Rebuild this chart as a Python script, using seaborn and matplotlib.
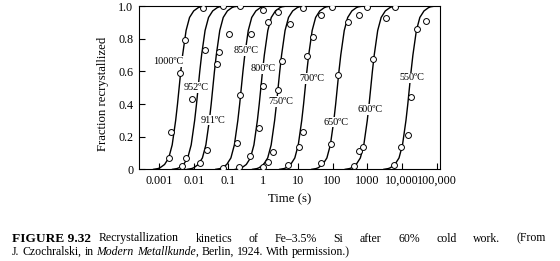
import numpy as np
import pandas as pd
import matplotlib
matplotlib.use("Agg")
import matplotlib.pyplot as plt
from matplotlib.ticker import NullLocator
import seaborn as sns

# ---------------- data ----------------
temps = ["1000ºC", "952ºC", "911ºC", "850ºC", "800ºC", "750ºC",
         "700ºC", "650ºC", "600ºC", "550ºC"]
# time at 50 % recrystallized for each drawn curve (s)
t50 = [0.0038, 0.0134, 0.0355, 0.235, 0.86, 2.7, 16.3, 137, 1260, 16400]

# shared shape of the drawn curves: fraction vs. decades from t50
profile_f = [0.0, 0.005, 0.01, 0.03, 0.07, 0.15, 0.3, 0.4, 0.5, 0.6, 0.7,
             0.85, 0.93, 0.97, 0.99, 0.995, 1.0]
profile_dlog = [-0.75, -0.61, -0.55, -0.42, -0.30, -0.20, -0.10, -0.047, 0.0,
                0.047, 0.10, 0.20, 0.30, 0.42, 0.55, 0.61, 0.75]

# measured points
pts_t = {
    "1000ºC": [0.00195, 0.00218, 0.00415, 0.00578, 0.0186],
    "952ºC": [0.00473, 0.0059, 0.00895, 0.0208, 0.0703],
    "911ºC": [0.0150, 0.0238, 0.0454, 0.0529, 0.105, 0.22],
    "850ºC": [0.0703, 0.178, 0.213, 0.443, 1.0],
    "800ºC": [0.204, 0.415, 0.77, 0.964, 1.40, 2.72],
    "750ºC": [1.0, 1.40, 1.95, 2.72, 3.59, 5.92, 14.0],
    "700ºC": [5.28, 10.8, 13.8, 18.7, 27.8, 45.5, 98.4],
    "650ºC": [45.5, 88.5, 147, 285, 580, 968],
    "600ºC": [416, 580, 771, 1442, 3491, 6350],
    "550ºC": [5930, 9450, 14760, 18370, 26840, 48750],
}
pts_f = {
    "1000ºC": [0.067, 0.23, 0.59, 0.79, 0.99],
    "952ºC": [0.02, 0.07, 0.43, 0.73, 1.0],
    "911ºC": [0.04, 0.12, 0.645, 0.72, 0.83, 1.0],
    "850ºC": [0.006, 0.163, 0.455, 0.83, 0.976],
    "800ºC": [0.016, 0.08, 0.255, 0.51, 0.90, 0.965],
    "750ºC": [0.016, 0.047, 0.108, 0.486, 0.665, 0.89, 0.986],
    "700ºC": [0.026, 0.138, 0.23, 0.694, 0.81, 0.945, 0.996],
    "650ºC": [0.037, 0.153, 0.58, 0.90, 0.945, 0.996],
    "600ºC": [0.02, 0.112, 0.138, 0.675, 0.925, 0.996],
    "550ºC": [0.026, 0.138, 0.21, 0.44, 0.857, 0.91],
}

# label positions (time, fraction)
label_t = [0.0018, 0.0120, 0.0348, 0.318, 1.0, 3.25, 26.1, 126, 1200, 19200]
label_f = [0.659, 0.502, 0.302, 0.726, 0.618, 0.415, 0.557, 0.29, 0.367, 0.56]

xtick_vals = [0.001, 0.01, 0.1, 1, 10, 100, 1000, 10000, 100000]
xtick_labels = ["0.001", "0.01", "0.1", "1", "10", "100", "1000",
                "10,000", "100,000"]
ytick_vals = [0, 0.2, 0.4, 0.6, 0.8, 1.0]
ytick_labels = ["0", "0.2", "0.4", "0.6", "0.8", "1.0"]

# ---------------- build tables ----------------
curve_rows = []
for temp, tm in zip(temps, t50):
    for f, d in zip(profile_f, profile_dlog):
        curve_rows.append({"temp": temp, "t": tm * 10.0 ** d, "f": f})
curves = pd.DataFrame(curve_rows)

pt_rows = []
for temp in temps:
    for t, f in zip(pts_t[temp], pts_f[temp]):
        pt_rows.append({"temp": temp, "t": t, "f": f})
points = pd.DataFrame(pt_rows)

# ---------------- figure ----------------
sns.set_theme(style="ticks")
plt.rcParams["font.family"] = ["Liberation Serif", "DejaVu Serif"]
plt.rcParams["axes.linewidth"] = 0.8

fig = plt.figure(figsize=(5.6, 2.61), dpi=100)
ax = fig.add_axes([0.248, 0.351, 0.538, 0.626])

sns.lineplot(data=curves, x="t", y="f", units="temp", estimator=None,
             sort=False, color="black", linewidth=1.0, ax=ax, zorder=2,
             legend=False)
sns.scatterplot(data=points, x="t", y="f", marker="o", facecolor="white",
                edgecolor="black", s=18, linewidth=0.7, ax=ax, zorder=4,
                legend=False)

for temp, lt, lf in zip(temps, label_t, label_f):
    ax.text(lt, lf, temp, ha="center", va="center", fontsize=7.4,
            color="black", zorder=3,
            bbox=dict(facecolor="white", edgecolor="none", pad=0.6))

ax.set_xscale("log")
ax.set_xlim(10 ** -3.58, 10 ** 5.10)
ax.set_ylim(0, 1.0)
ax.set_xticks(xtick_vals)
ax.set_xticklabels(xtick_labels)
ax.xaxis.set_minor_locator(NullLocator())
ax.set_yticks(ytick_vals)
ax.set_yticklabels(ytick_labels)
ax.tick_params(axis="both", direction="in", length=4.5, width=0.8,
               labelsize=8.7, colors="black", pad=4)
ax.set_xlabel("")
ax.set_ylabel("")
for sp in ax.spines.values():
    sp.set_visible(True)
    sp.set_color("black")
    sp.set_linewidth(0.8)
ax.set_facecolor("white")
ax.grid(False)

W, H = 560.0, 261.0
fig.text(103 / W, 1 - 94 / H, "Fraction recrystallized", rotation=90,
         ha="center", va="center", fontsize=9.2, color="black")
fig.text(290 / W, 1 - 199.5 / H, "Time (s)", ha="center", va="center",
         fontsize=9.2, color="black")

# ---------------- caption ----------------
fig.canvas.draw()
renderer = fig.canvas.get_renderer()
cap_fs = 8.5
bold_fs = 9.6


def width_of(s, **kw):
    kw.setdefault("fontsize", cap_fs)
    t = fig.text(0, 0, s, **kw)
    w = t.get_window_extent(renderer).width
    t.remove()
    return w


fig.text(12 / W, 1 - 241.5 / H, "FIGURE 9.32", fontsize=bold_fs,
         fontweight="bold", ha="left", va="baseline", color="black")
bold_end = 12.0 + width_of("FIGURE 9.32", fontsize=bold_fs, fontweight="bold")

words1 = ["Recrystallization", "kinetics", "of", "Fe–3.5%", "Si", "after",
          "60%", "cold", "work.", "(From"]
ws = [width_of(w) for w in words1]
x0, x1 = bold_end + 8.0, 546.0
gap = (x1 - x0 - sum(ws)) / (len(words1) - 1)
x = x0
for w, wd in zip(words1, ws):
    fig.text(x / W, 1 - 241.5 / H, w, fontsize=cap_fs, ha="left",
             va="baseline", color="black")
    x += wd + gap

space = width_of("a a") - width_of("aa")
words2 = [("J.", "normal"), ("Czochralski,", "normal"), ("in", "normal"),
          ("Modern", "italic"), ("Metallkunde", "italic"), (",", "comma"),
          ("Berlin,", "normal"), ("1924.", "normal"), ("With", "normal"),
          ("permission.)", "normal")]
x = 12.0
for w, st in words2:
    style = "italic" if st == "italic" else "normal"
    if st == "comma":
        x -= space
    fig.text(x / W, 1 - 255 / H, w, fontsize=cap_fs, fontstyle=style,
             ha="left", va="baseline", color="black")
    x += width_of(w, fontstyle=style) + space

fig.savefig("out.png", dpi=100, facecolor="white")
